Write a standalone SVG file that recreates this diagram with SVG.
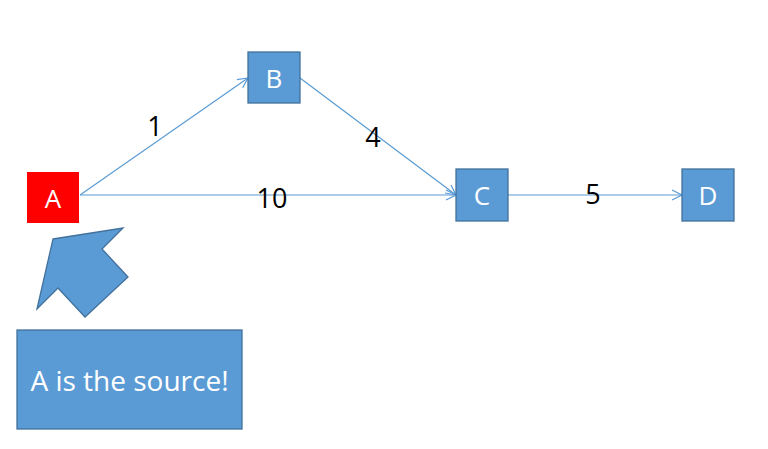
<svg xmlns="http://www.w3.org/2000/svg" width="768" height="449" viewBox="0 0 768 449">
<defs>
<style>
.node{fill:#5B9BD5;stroke:#41719C;stroke-width:1.3}
.lbl{font-family:"Open Sans","Liberation Sans",sans-serif;font-size:26px;fill:#fff;text-anchor:middle}
.note{font-family:"Open Sans","Liberation Sans",sans-serif;font-size:28px;fill:#fff;text-anchor:middle}
.w{font-family:"Open Sans","Liberation Sans",sans-serif;font-size:27px;fill:#000;text-anchor:middle}
.edge{stroke:#5B9BD5;stroke-width:1.2;fill:none;marker-end:url(#arr)}
</style>
<marker id="arr" viewBox="0 0 12 12" refX="11" refY="6" markerWidth="12" markerHeight="12" markerUnits="userSpaceOnUse" orient="auto">
<path d="M1,1 L11,6 L1,11" fill="none" stroke="#5B9BD5" stroke-width="1.2"/>
</marker>
</defs>
<rect width="768" height="449" fill="#fff"/>
<g id="connectors">
<line class="edge" x1="80" y1="195" x2="248" y2="78"/>
<line class="edge" x1="80" y1="195" x2="456" y2="195"/>
<line class="edge" x1="300" y1="78" x2="456" y2="195"/>
<line class="edge" x1="508" y1="195" x2="682" y2="195"/>
<text class="w" x="155" y="136">1</text>
<text class="w" x="373" y="147">4</text>
<text class="w" x="272" y="208">10</text>
<text class="w" x="593" y="204">5</text>
</g>
<g id="A">
<rect x="27" y="172" width="52" height="51" fill="#FF0000"/>
<text class="lbl" x="53" y="208">A</text>
</g>
<g id="B">
<rect class="node" x="248" y="52" width="52" height="51"/>
<text class="lbl" x="274" y="88">B</text>
</g>
<g id="C">
<rect class="node" x="456" y="169" width="52" height="52"/>
<text class="lbl" x="482" y="205">C</text>
</g>
<g id="D">
<rect class="node" x="682" y="169" width="52" height="52"/>
<text class="lbl" x="708" y="205">D</text>
</g>
<g id="pointer">
<polygon class="node" points="53,239 123,228 102,249 128,277 85,317 58,288 37,309"/>
</g>
<g id="note">
<rect class="node" x="17" y="330" width="225" height="99"/>
<text class="note" x="129.5" y="391">A is the source!</text>
</g>
</svg>
